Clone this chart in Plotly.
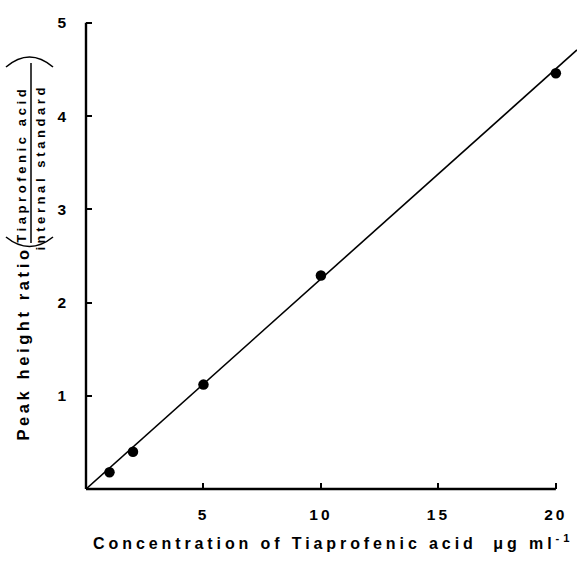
import plotly.graph_objects as go

# Data
conc = [1, 2, 5, 10, 20]                 # µg/ml
ratio = [0.18, 0.40, 1.12, 2.29, 4.46]   # peak height ratio
fit_x = [0.0, 20.9]
fit_y = [0.0, 4.71]

x_ticks = [5, 10, 15, 20]
y_ticks = [1, 2, 3, 4, 5]

FONT = "Liberation Sans"
W, H = 577, 576
L, R, T, B = 86, 0, 21, 87
PW, PH = W - L - R, H - T - B


def px(x):
    return (x - L) / PW


def py(y):
    return (H - B - y) / PH


fig = go.Figure()
fig.add_trace(go.Scatter(x=fit_x, y=fit_y, mode="lines",
                         line=dict(color="black", width=1.6),
                         hoverinfo="skip", showlegend=False))
fig.add_trace(go.Scatter(x=conc, y=ratio, mode="markers",
                         marker=dict(color="black", size=10.5),
                         showlegend=False, cliponaxis=False))

axis_common = dict(showgrid=False, zeroline=False, showline=False,
                   automargin=False,
                   ticks="inside", ticklen=6, tickwidth=2, tickcolor="black",
                   tickfont=dict(family=FONT, size=15.5, color="black", weight=700))

fig.update_xaxes(range=[0, 20.9], tickvals=x_ticks,
                 ticktext=[f"<b>{v}</b>" for v in x_ticks],
                 ticklabelstandoff=14, **axis_common)
fig.update_yaxes(range=[0, 5.02], tickvals=y_ticks,
                 ticktext=[f"<b>{v}</b>" for v in y_ticks],
                 ticklabelstandoff=19, **axis_common)

shapes = [
    # x axis line (0 to 20)
    dict(type="line", xref="x", yref="paper", x0=0, x1=20, y0=0, y1=0,
         line=dict(color="black", width=2.4)),
    # y axis line (0 to 5)
    dict(type="line", xref="paper", yref="y", x0=0, x1=0, y0=0, y1=5,
         line=dict(color="black", width=2.4)),
    # fraction bar
    dict(type="line", xref="paper", yref="paper", x0=px(31), x1=px(31),
         y0=py(63), y1=py(243), line=dict(color="black", width=1.5)),
    # parentheses (rotated)
    dict(type="path", xref="paper", yref="paper",
         path=f"M {px(6)},{py(67)} Q {px(29.5)},{py(47)} {px(53)},{py(67)}",
         line=dict(color="black", width=1.6)),
    dict(type="path", xref="paper", yref="paper",
         path=f"M {px(6)},{py(237)} Q {px(29.5)},{py(256)} {px(53)},{py(237)}",
         line=dict(color="black", width=1.6)),
]

annotations = [
    dict(text="<b>Peak height ratio</b>", x=px(23), y=py(343), textangle=-90,
         font=dict(family=FONT, size=16.5, color="black")),
    dict(text="<b>Tiaprofenic acid</b>", x=px(21), y=py(164), textangle=-90,
         font=dict(family=FONT, size=13, color="black")),
    dict(text="<b>internal standard</b>", x=px(40), y=py(167), textangle=-90,
         font=dict(family=FONT, size=13, color="black")),
    dict(text="<b>Concentration of Tiaprofenic acid  μg ml<sup>-1</sup></b>",
         x=px(333), y=py(542),
         font=dict(family=FONT, size=16, color="black")),
]
for a in annotations:
    a.update(xref="paper", yref="paper", showarrow=False,
             xanchor="center", yanchor="middle")

fig.update_layout(width=W, height=H, margin=dict(l=L, r=R, t=T, b=B),
                  plot_bgcolor="white", paper_bgcolor="white",
                  shapes=shapes, annotations=annotations)

js = """
document.body.style.margin = '0';
document.body.style.padding = '0';
var gd = document.getElementById('{plot_id}');
function spacing(){
  var ann = gd.querySelectorAll('.annotation-text');
  ann.forEach(function(t, i){
    t.style.letterSpacing = (i === 3 ? '3.9px' : '3.6px');
  });
  gd.querySelectorAll('.xtick text').forEach(function(t){ t.style.letterSpacing='3px'; });
}
spacing();
gd.on('plotly_afterplot', spacing);
"""
fig.write_html("out.html", post_script=js, config={"displayModeBar": False})
